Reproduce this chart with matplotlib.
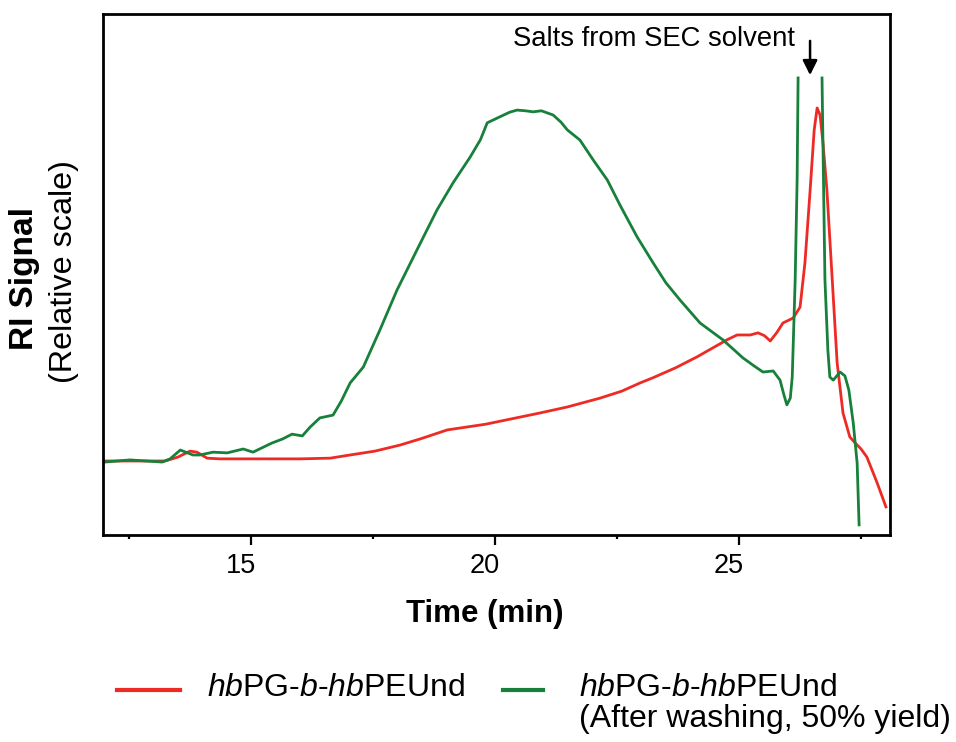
import numpy as np
import matplotlib
matplotlib.use("Agg")
import matplotlib.pyplot as plt
from matplotlib.lines import Line2D
from matplotlib.transforms import ScaledTranslation

plt.rcParams["font.family"] = ["Liberation Sans", "DejaVu Sans"]
plt.rcParams["mathtext.fontset"] = "custom"
plt.rcParams["mathtext.rm"] = "Liberation Sans"
plt.rcParams["mathtext.it"] = "Liberation Sans:italic"

# SEC traces: elution time (min) vs. RI signal (normalised to the salt peak of the crude sample)
crude_time = [12.0, 12.52, 13.24, 13.50, 13.75, 13.89, 14.10, 14.36, 14.98, 16.0,
              16.62, 17.03, 17.54, 18.05, 18.50, 19.02, 19.80, 20.92, 21.48, 22.15,
              22.60, 22.97, 23.24, 23.70, 24.14, 24.75, 24.96, 25.23, 25.39, 25.52,
              25.64, 25.78, 25.90, 26.11, 26.25, 26.35, 26.45, 26.54, 26.60, 26.66,
              26.72, 26.80, 26.91, 27.01, 27.13, 27.27, 27.38, 27.50, 27.62, 27.83,
              28.01]
crude_signal = [0.000, 0.000, 0.000, 0.011, 0.028, 0.025, 0.008, 0.006, 0.006, 0.006,
                0.008, 0.017, 0.028, 0.045, 0.064, 0.088, 0.104, 0.136, 0.153, 0.178,
                0.198, 0.221, 0.236, 0.264, 0.295, 0.343, 0.357, 0.357, 0.363, 0.355,
                0.340, 0.365, 0.391, 0.405, 0.436, 0.561, 0.754, 0.938, 1.000, 0.980,
                0.901, 0.768, 0.513, 0.278, 0.136, 0.068, 0.051, 0.034, 0.011, -0.062,
                -0.130]

# Washed sample; the salt peak runs off scale, so that stretch is left blank (NaN)
washed_time = [12.0, 12.52, 13.18, 13.34, 13.55, 13.81, 13.95, 14.22, 14.51, 14.84,
               15.04, 15.43, 15.64, 15.84, 16.05, 16.21, 16.41, 16.68, 16.85, 17.03,
               17.30, 17.64, 17.99, 18.40, 18.81, 19.14, 19.49, 19.70, 19.84, 20.10,
               20.30, 20.45, 20.62, 20.78, 20.95, 21.19, 21.35, 21.48, 21.74, 22.01,
               22.30, 22.56, 22.91, 23.24, 23.50, 23.79, 24.20, 24.67, 25.08, 25.30,
               25.49, 25.70, 25.84, 25.92, 25.98, 26.05, 26.09, 26.15, 26.19, 26.21,
               26.45, 26.70, 26.76, 26.82, 26.86, 26.93, 27.07, 27.17, 27.25, 27.34,
               27.42, 27.46]
washed_signal = [-0.003, 0.003, -0.003, 0.006, 0.031, 0.017, 0.017, 0.025, 0.023, 0.034,
                 0.025, 0.051, 0.062, 0.076, 0.071, 0.096, 0.122, 0.130, 0.170, 0.221,
                 0.266, 0.371, 0.484, 0.598, 0.711, 0.788, 0.861, 0.910, 0.958, 0.975,
                 0.988, 0.994, 0.992, 0.989, 0.992, 0.980, 0.960, 0.938, 0.909, 0.853,
                 0.796, 0.725, 0.635, 0.561, 0.505, 0.456, 0.391, 0.343, 0.292, 0.270,
                 0.252, 0.255, 0.229, 0.187, 0.159, 0.178, 0.238, 0.513, 0.796, 1.085,
                 np.nan, 1.085, 0.513, 0.314, 0.238, 0.229, 0.252, 0.241, 0.201, 0.108,
                 -0.006, -0.181]

major_ticks = [15, 20, 25]
minor_ticks = [12.5, 17.5, 22.5, 27.5]
salt_time = 26.455

series_labels = [r"$\it{hb}$PG-$\it{b}$-$\it{hb}$PEUnd",
                 r"$\it{hb}$PG-$\it{b}$-$\it{hb}$PEUnd",
                 "(After washing, 50% yield)"]

RED = "#EE2A24"
GREEN = "#17803A"

fig = plt.figure(figsize=(9.56, 7.42), dpi=100)
ax = fig.add_axes([0.1081, 0.2790, 0.8229, 0.7022])

ax.plot(crude_time, crude_signal, color=RED, lw=2.0, solid_joinstyle="round")
ax.plot(washed_time, washed_signal, color=GREEN, lw=2.0, solid_joinstyle="round")

ax.set_xlim(11.973, 28.094)
ax.set_ylim(-0.2096, 1.2663)

for sp in ax.spines.values():
    sp.set_linewidth(2.0)
    sp.set_color("black")

ax.set_yticks([])
ax.set_xticks(major_ticks)
ax.set_xticks(minor_ticks, minor=True)
ax.set_xticklabels([str(t) for t in major_ticks])
ax.tick_params(axis="x", which="major", direction="out", length=7.2, width=1.6,
               labelsize=19.5, pad=5.5)
ax.tick_params(axis="x", which="minor", direction="out", length=3.0, width=1.6)
shift = ScaledTranslation(-10 / 100, 0, fig.dpi_scale_trans)
for lab in ax.get_xticklabels():
    lab.set_transform(lab.get_transform() + shift)

ax.set_xlabel("Time (min)", fontsize=22.5, fontweight="bold")
ax.xaxis.set_label_coords(0.485, -0.122)

fig.text(24 / 956, 1 - 278 / 742, "RI Signal", rotation=90, fontsize=24,
         fontweight="bold", ha="center", va="center")
fig.text(64 / 956, 1 - 272 / 742, "(Relative scale)", rotation=90, fontsize=23.3,
         ha="center", va="center")

# annotation for the salt peak
ax.annotate("", xy=(salt_time, 1.093), xytext=(salt_time, 1.19),
            arrowprops=dict(arrowstyle="-|>", color="black", lw=1.8,
                            mutation_scale=22, shrinkA=0, shrinkB=0),
            annotation_clip=False)
ax.text(26.148, 1.195, "Salts from SEC solvent", fontsize=19.8, ha="right",
        va="center")

# legend below the axes
def fy(px):
    return 1 - px / 742

def fx(px):
    return px / 956

fig.add_artist(Line2D([fx(117), fx(180)], [fy(690), fy(690)], color=RED, lw=3.0))
fig.text(fx(207), fy(688), series_labels[0], fontsize=23, ha="left", va="center")
fig.add_artist(Line2D([fx(503), fx(543)], [fy(690), fy(690)], color=GREEN, lw=3.0))
fig.text(fx(579), fy(688), series_labels[1], fontsize=23, ha="left", va="center")
fig.text(fx(579), fy(719), series_labels[2], fontsize=23, ha="left", va="center")

fig.savefig("out.png", dpi=100)
